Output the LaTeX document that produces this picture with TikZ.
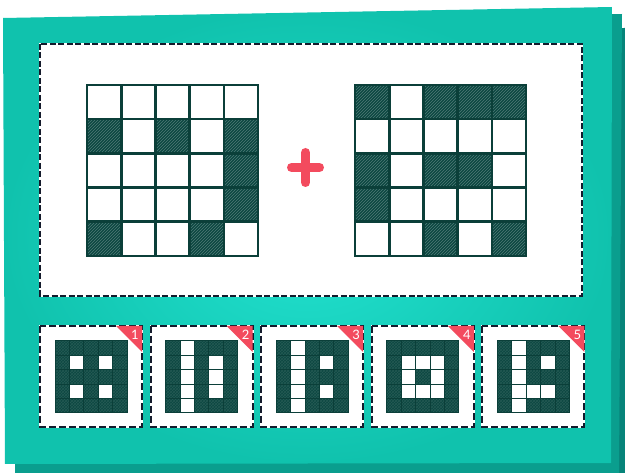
\documentclass[tikz,border=0pt]{standalone}
\usepackage{fontspec}
\setsansfont{Lato}
\usetikzlibrary{patterns}
\definecolor{tealA}{HTML}{10C2AD}
\definecolor{tealGlow}{HTML}{22E2D0}
\definecolor{tealS1}{HTML}{0A9E8E}
\definecolor{tealS2}{HTML}{07847A}
\definecolor{ink}{HTML}{0B3F39}
\definecolor{cellfill}{HTML}{0C4741}
\definecolor{dashink}{HTML}{141B2C}
\definecolor{plusred}{HTML}{F34B5E}
\tikzset{
  gridline/.style={draw=ink, line width=2.6pt, line cap=rect},
  smallgrid/.style={draw=ink, line width=1.0pt, line cap=rect},
  hatchcell/.style={pattern=north east lines, pattern color=white, opacity=0.28},
  dashborder/.style={draw=dashink, line width=2pt, dash pattern=on 6pt off 2.5pt},
  carddash/.style={draw=dashink, line width=2pt, dash pattern=on 7pt off 3pt},
  whiteedge/.style={draw=white, line width=2pt},
  corner/.style={fill=plusred},
  numlabel/.style={text=white, font=\sffamily\fontsize{13}{13}\selectfont, inner sep=0pt},
}
\begin{document}
\begin{tikzpicture}[x=1pt,y=-1pt]
\useasboundingbox (0,0) rectangle (625,473);
% card shadows
\fill[tealS2] (30,30) -- (625,28) -- (625,473) -- (30,473) -- cycle;
\fill[tealS1] (15,22) -- (622,14) -- (619,473) -- (15,473) -- cycle;
% main card with glow
\shade[inner color=tealGlow, outer color=tealA] (3,18) -- (612,7) -- (611,463) -- (5,464) -- cycle;
% top panel
\fill[white] (40,44) rectangle (582,296);
\draw[whiteedge] (40,44) rectangle (582,296);
\draw[dashborder] (40,44) rectangle (582,296);
% big grid 1
\foreach \r/\c in {1/0,1/2,1/4,2/4,3/4,4/0,4/3} {
  \fill[cellfill] ({87+\c*34.2},{85+\r*34.2}) rectangle ++(34.2,34.2);
  \fill[hatchcell] ({87+\c*34.2},{85+\r*34.2}) rectangle ++(34.2,34.2);
}
\foreach \i in {0,...,5} {
  \draw[gridline] ({87+\i*34.2},85) -- ++(0,171);
  \draw[gridline] (87,{85+\i*34.2}) -- ++(171,0);
}
% big grid 2
\foreach \r/\c in {0/0,0/2,0/3,0/4,2/0,2/2,2/3,3/0,4/2,4/4} {
  \fill[cellfill] ({355+\c*34.2},{85+\r*34.2}) rectangle ++(34.2,34.2);
  \fill[hatchcell] ({355+\c*34.2},{85+\r*34.2}) rectangle ++(34.2,34.2);
}
\foreach \i in {0,...,5} {
  \draw[gridline] ({355+\i*34.2},85) -- ++(0,171);
  \draw[gridline] (355,{85+\i*34.2}) -- ++(171,0);
}
% plus sign
\draw[plusred, line width=9pt, line cap=round] (291.5,167.5) -- (319.5,167.5);
\draw[plusred, line width=9pt, line cap=round] (305.5,152.5) -- (305.5,182.5);
% answer cards
\foreach \k/\whites in {
  1/{1/1,1/3,3/1,3/3},
  2/{0/1,1/1,2/1,3/1,4/1,1/3,2/3,3/3},
  3/{0/1,1/1,2/1,3/1,4/1,1/3,3/3},
  4/{1/1,1/2,1/3,2/1,2/3,3/1,3/2,3/3},
  5/{0/1,1/1,2/1,3/1,4/1,1/3,3/2,3/3}} {
  \pgfmathsetmacro{\xk}{40+(\k-1)*110.6}
  \fill[white] (\xk,326) rectangle ++(102,101);
  \draw[whiteedge] (\xk,326) rectangle ++(102,101);
  \draw[carddash] (\xk,326) rectangle ++(102,101);
  \fill[cellfill] ({\xk+15},341) rectangle ++(72,72);
  \fill[pattern=crosshatch, pattern color=white, opacity=0.1] ({\xk+15},341) rectangle ++(72,72);
  \foreach \r/\c in \whites {
    \fill[white] ({\xk+15+\c*14.4},{341+\r*14.4}) rectangle ++(14.4,14.4);
  }
  \foreach \i in {0,...,5} {
    \draw[smallgrid] ({\xk+15+\i*14.4},341) -- ++(0,72);
    \draw[smallgrid] ({\xk+15},{341+\i*14.4}) -- ++(72,0);
  }
  \fill[corner] ({\xk+76},326) -- ({\xk+102},326) -- ({\xk+102},352) -- cycle;
  \node[numlabel] (num\k) at ({\xk+95},334.5) {\k};
}
\end{tikzpicture}
\end{document}
